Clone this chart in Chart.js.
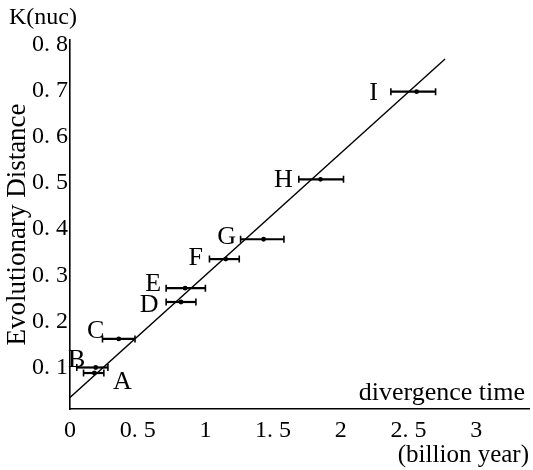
<!DOCTYPE html>
<html>
<head>
<meta charset="utf-8">
<script src="https://cdn.jsdelivr.net/npm/chart.js@4"></script>
<style>
  html, body { margin: 0; padding: 0; background: #ffffff; }
  #wrap { width: 533px; height: 470px; }
</style>
</head>
<body>
<div id="wrap"><canvas id="chart" width="533" height="470"></canvas></div>
<script>
// ====================== DATA ======================
const pointLabels = ['A', 'B', 'C', 'D', 'E', 'F', 'G', 'H', 'I'];
const timeValues = [0.18, 0.19, 0.36, 0.82, 0.85, 1.15, 1.43, 1.85, 2.56];
const timeLow = [0.10, 0.05, 0.24, 0.71, 0.71, 1.03, 1.26, 1.69, 2.37];
const timeHigh = [0.25, 0.28, 0.48, 0.93, 1.00, 1.25, 1.58, 2.02, 2.70];
const distanceValues = [0.088, 0.10, 0.162, 0.242, 0.272, 0.335, 0.378, 0.508, 0.698];

const fitTime = [0, 2.77];
const fitDistance = [0.035, 0.769];

const xTickValues = [0, 0.5, 1, 1.5, 2, 2.5, 3];
const xTickLabels = ['0', '0. 5', '1', '1. 5', '2', '2. 5', '3'];
const yTickValues = [0.1, 0.2, 0.3, 0.4, 0.5, 0.6, 0.7, 0.8];
const yTickLabels = ['0. 1', '0. 2', '0. 3', '0. 4', '0. 5', '0. 6', '0. 7', '0. 8'];

// ====================== STYLE ======================
const SERIF = '"Liberation Serif", "DejaVu Serif", serif';
const INK = '#000000';

// label offsets (px) from each point
const labelOffsets = {
    A: [28, 9], B: [-19, -7], C: [-23, -8], D: [-32, 3], E: [-32, -4],
    F: [-30, -1], G: [-37, -2], H: [-37, 1], I: [-43, 2]
};

const errorBars = {
    id: 'errorBars',
    afterDatasetsDraw(chart) {
        const { ctx, scales: { x, y } } = chart;
        ctx.save();
        ctx.strokeStyle = INK;
        timeValues.forEach((t, i) => {
            const py = y.getPixelForValue(distanceValues[i]);
            const x0 = x.getPixelForValue(timeLow[i]);
            const x1 = x.getPixelForValue(timeHigh[i]);
            ctx.lineWidth = 2.2;
            ctx.beginPath();
            ctx.moveTo(x0, py); ctx.lineTo(x1, py);
            ctx.stroke();
            ctx.lineWidth = 1.6;
            ctx.beginPath();
            ctx.moveTo(x0, py - 3.5); ctx.lineTo(x0, py + 3.5);
            ctx.moveTo(x1, py - 3.5); ctx.lineTo(x1, py + 3.5);
            ctx.stroke();
        });

        // point letters
        ctx.fillStyle = INK;
        ctx.font = '26px ' + SERIF;
        ctx.textAlign = 'center';
        ctx.textBaseline = 'middle';
        pointLabels.forEach((lab, i) => {
            const px = x.getPixelForValue(timeValues[i]);
            const py = y.getPixelForValue(distanceValues[i]);
            const off = labelOffsets[lab];
            ctx.fillText(lab, px + off[0], py + off[1]);
        });

        // extra axis texts
        ctx.font = '24px ' + SERIF;
        ctx.textAlign = 'left';
        ctx.fillText('K(nuc)', 9, 18);
        ctx.font = '26px ' + SERIF;
        ctx.textAlign = 'right';
        ctx.fillText('divergence time', 525, 393);
        ctx.restore();
    }
};

// ====================== CHART ======================
new Chart(document.getElementById('chart').getContext('2d'), {
    type: 'scatter',
    data: {
        datasets: [
            {
                label: 'fit',
                data: fitTime.map((t, i) => ({ x: t, y: fitDistance[i] })),
                showLine: true,
                borderColor: INK,
                borderWidth: 1.4,
                pointRadius: 0,
                fill: false
            },
            {
                label: 'samples',
                data: timeValues.map((t, i) => ({ x: t, y: distanceValues[i] })),
                backgroundColor: INK,
                borderColor: INK,
                pointRadius: 2.4,
                pointBorderWidth: 0
            }
        ]
    },
    options: {
        responsive: false,
        animation: false,
        layout: { padding: { top: 40, right: 2, left: 0, bottom: 0 } },
        plugins: {
            legend: { display: false },
            tooltip: { enabled: false }
        },
        scales: {
            x: {
                type: 'linear',
                min: 0,
                max: 3.39,
                grid: { display: false, drawTicks: false },
                border: { display: true, color: INK, width: 1.6 },
                afterBuildTicks: (scale) => { scale.ticks = xTickValues.map(v => ({ value: v })); },
                afterFit: (scale) => { scale.height = 61; },
                ticks: {
                    color: INK,
                    padding: 7,
                    maxRotation: 0,
                    font: { family: SERIF, size: 24 },
                    callback: (v) => xTickLabels[xTickValues.indexOf(v)]
                },
                title: {
                    display: true,
                    text: '(billion year)',
                    align: 'end',
                    color: INK,
                    padding: { top: 0, bottom: 0 },
                    font: { family: SERIF, size: 25 }
                }
            },
            y: {
                type: 'linear',
                min: 0.01,
                max: 0.81,
                grid: { display: false, drawTicks: false },
                border: { display: true, color: INK, width: 1.6 },
                afterBuildTicks: (scale) => { scale.ticks = yTickValues.map(v => ({ value: v })); },
                afterFit: (scale) => { scale.width = 70; },
                ticks: {
                    color: INK,
                    padding: 2,
                    font: { family: SERIF, size: 24 },
                    callback: (v) => yTickLabels[yTickValues.indexOf(v)]
                },
                title: {
                    display: true,
                    text: 'Evolutionary Distance',
                    color: INK,
                    padding: { top: 2, bottom: 0 },
                    font: { family: SERIF, size: 27 }
                }
            }
        }
    },
    plugins: [errorBars]
});
</script>
</body>
</html>
